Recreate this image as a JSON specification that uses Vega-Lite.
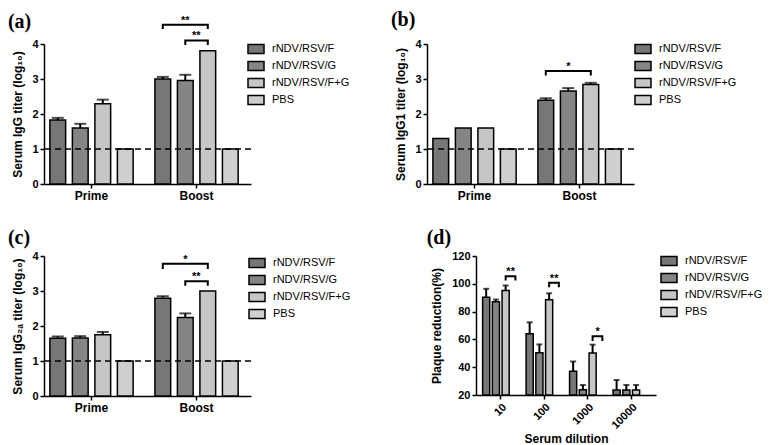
{
  "$schema": "https://vega.github.io/schema/vega-lite/v6.json",
  "padding": {"left": 7, "top": 10, "right": 0, "bottom": 0},
  "background": "white",
  "spacing": 27,
  "resolve": {"scale": {"fill": "independent", "xOffset": "independent"}, "legend": {"fill": "independent"}},
  "config": {
    "font": "Liberation Sans",
    "view": {"stroke": null},
    "axis": {"domainColor": "black", "domainWidth": 1.5, "tickColor": "black", "tickWidth": 1.5, "tickSize": 4, "labelFont": "Liberation Sans", "labelFontWeight": "bold", "labelFontSize": 11, "labelColor": "black", "labelPadding": 2, "labelOverlap": false, "titleFont": "Liberation Sans", "titleFontWeight": "bold", "titleFontSize": 12, "titleColor": "black", "grid": false},
    "axisX": {"labelFontSize": 12},
    "axisY": {"tickCount": 5},
    "legend": {"title": null, "labelFont": "Liberation Sans", "labelFontSize": 11, "labelColor": "black", "symbolType": "M-1,-0.55L1,-0.55L1,0.55L-1,0.55Z", "symbolSize": 256, "symbolStrokeColor": "black", "symbolStrokeWidth": 1.5, "symbolOpacity": 1, "symbolFillOpacity": 1, "rowPadding": -1, "labelOffset": 7},
    "title": {"font": "Liberation Serif", "fontSize": 20, "fontWeight": "bold", "anchor": "start", "frame": "bounds", "color": "black", "offset": 12}
  },
  "vconcat": [
    {
      "bounds": "flush",
      "spacing": 176,
      "resolve": {"scale": {"fill": "independent", "xOffset": "independent"}, "legend": {"fill": "independent"}},
      "hconcat": [
        {
          "title": {"text": "(a)", "dx": -4, "dy": 29},
          "width": 207, "height": 140,
          "data": {"values": [
            {"time": "Prime", "group": "rNDV/RSV/F", "v": 1.83, "hi": 1.89},
            {"time": "Prime", "group": "rNDV/RSV/G", "v": 1.60, "hi": 1.72},
            {"time": "Prime", "group": "rNDV/RSV/F+G", "v": 2.29, "hi": 2.41},
            {"time": "Prime", "group": "PBS", "v": 1.0, "hi": null},
            {"time": "Boost", "group": "rNDV/RSV/F", "v": 3.0, "hi": 3.06},
            {"time": "Boost", "group": "rNDV/RSV/G", "v": 2.96, "hi": 3.12},
            {"time": "Boost", "group": "rNDV/RSV/F+G", "v": 3.81, "hi": null},
            {"time": "Boost", "group": "PBS", "v": 1.0, "hi": null}
          ]},
          "encoding": {
            "x": {"field": "time", "type": "nominal", "scale": {"domain": ["Prime", "Boost"], "paddingInner": 0.143, "paddingOuter": 0.057, "align": 0.21}, "axis": {"title": null, "labelAngle": 0}},
            "xOffset": {"field": "group", "type": "nominal", "scale": {"domain": ["rNDV/RSV/F", "rNDV/RSV/G", "rNDV/RSV/F+G", "PBS"], "paddingInner": 0.3, "paddingOuter": 0.15}}
          },
          "layer": [
            {
              "mark": {"type": "bar", "stroke": "black", "strokeWidth": 1.5},
              "encoding": {
                "y": {"field": "v", "type": "quantitative", "scale": {"domain": [0, 4]}, "axis": {"title": "Serum IgG titer (log₁₀)", "titlePadding": 7}},
                "fill": {"field": "group", "type": "nominal", "scale": {"domain": ["rNDV/RSV/F", "rNDV/RSV/G", "rNDV/RSV/F+G", "PBS"], "range": ["#777777", "#858585", "#c6c6c6", "#cfcfcf"]}, "legend": {"orient": "none", "legendX": 203, "legendY": -4}}
              }
            },
            {
              "transform": [{"filter": "datum.hi != null"}],
              "mark": {"type": "rule", "color": "black", "strokeWidth": 2},
              "encoding": {"y": {"field": "v", "type": "quantitative"}, "y2": {"field": "hi"}}
            },
            {
              "transform": [{"filter": "datum.hi != null"}],
              "mark": {"type": "tick", "color": "black", "thickness": 2, "size": 12},
              "encoding": {"y": {"field": "hi", "type": "quantitative"}}
            },
            {
              "data": {"values": [{"ref": 1}]},
              "mark": {"type": "rule", "color": "black", "strokeWidth": 1.5, "strokeDash": [6, 4]},
              "encoding": {"y": {"field": "ref", "type": "quantitative"}, "x": null, "xOffset": null}
            },
            {
              "data": {"values": [
                {"id": 1, "time": "Boost", "group": "rNDV/RSV/F", "y": 4.43, "o": 1},
                {"id": 1, "time": "Boost", "group": "rNDV/RSV/F", "y": 4.55, "o": 2},
                {"id": 1, "time": "Boost", "group": "rNDV/RSV/F+G", "y": 4.55, "o": 3},
                {"id": 1, "time": "Boost", "group": "rNDV/RSV/F+G", "y": 4.43, "o": 4},
                {"id": 2, "time": "Boost", "group": "rNDV/RSV/G", "y": 3.97, "o": 1},
                {"id": 2, "time": "Boost", "group": "rNDV/RSV/G", "y": 4.10, "o": 2},
                {"id": 2, "time": "Boost", "group": "rNDV/RSV/F+G", "y": 4.10, "o": 3},
                {"id": 2, "time": "Boost", "group": "rNDV/RSV/F+G", "y": 3.97, "o": 4}
              ]},
              "mark": {"type": "line", "color": "black", "strokeWidth": 2},
              "encoding": {"y": {"field": "y", "type": "quantitative"}, "detail": {"field": "id"}, "order": {"field": "o"}}
            },
            {
              "data": {"values": [{"time": "Boost", "group": "rNDV/RSV/G", "y": 4.58, "t": "**"}]},
              "mark": {"type": "text", "fontSize": 11, "fontWeight": "bold", "baseline": "alphabetic"},
              "encoding": {"y": {"field": "y", "type": "quantitative"}, "text": {"field": "t"}}
            },
            {
              "data": {"values": [{"time": "Boost", "group": "rNDV/RSV/G", "y": 4.13, "t": "**"}]},
              "mark": {"type": "text", "fontSize": 11, "fontWeight": "bold", "baseline": "alphabetic", "dx": 11},
              "encoding": {"y": {"field": "y", "type": "quantitative"}, "text": {"field": "t"}}
            }
          ]
        },
        {
          "title": {"text": "(b)", "dx": -4, "dy": 4},
          "width": 207, "height": 140,
          "data": {"values": [
            {"time": "Prime", "group": "rNDV/RSV/F", "v": 1.30, "hi": null},
            {"time": "Prime", "group": "rNDV/RSV/G", "v": 1.60, "hi": null},
            {"time": "Prime", "group": "rNDV/RSV/F+G", "v": 1.60, "hi": null},
            {"time": "Prime", "group": "PBS", "v": 1.0, "hi": null},
            {"time": "Boost", "group": "rNDV/RSV/F", "v": 2.39, "hi": 2.45},
            {"time": "Boost", "group": "rNDV/RSV/G", "v": 2.66, "hi": 2.74},
            {"time": "Boost", "group": "rNDV/RSV/F+G", "v": 2.84, "hi": 2.89},
            {"time": "Boost", "group": "PBS", "v": 1.0, "hi": null}
          ]},
          "encoding": {
            "x": {"field": "time", "type": "nominal", "scale": {"domain": ["Prime", "Boost"], "paddingInner": 0.143, "paddingOuter": 0.057, "align": 0.21}, "axis": {"title": null, "labelAngle": 0}},
            "xOffset": {"field": "group", "type": "nominal", "scale": {"domain": ["rNDV/RSV/F", "rNDV/RSV/G", "rNDV/RSV/F+G", "PBS"], "paddingInner": 0.3, "paddingOuter": 0.15}}
          },
          "layer": [
            {
              "mark": {"type": "bar", "stroke": "black", "strokeWidth": 1.5},
              "encoding": {
                "y": {"field": "v", "type": "quantitative", "scale": {"domain": [0, 4]}, "axis": {"title": "Serum IgG1 titer (log₁₀)", "titlePadding": 7}},
                "fill": {"field": "group", "type": "nominal", "scale": {"domain": ["rNDV/RSV/F", "rNDV/RSV/G", "rNDV/RSV/F+G", "PBS"], "range": ["#777777", "#858585", "#c6c6c6", "#cfcfcf"]}, "legend": {"orient": "none", "legendX": 207, "legendY": -4}}
              }
            },
            {
              "transform": [{"filter": "datum.hi != null"}],
              "mark": {"type": "rule", "color": "black", "strokeWidth": 2},
              "encoding": {"y": {"field": "v", "type": "quantitative"}, "y2": {"field": "hi"}}
            },
            {
              "transform": [{"filter": "datum.hi != null"}],
              "mark": {"type": "tick", "color": "black", "thickness": 2, "size": 12},
              "encoding": {"y": {"field": "hi", "type": "quantitative"}}
            },
            {
              "data": {"values": [{"ref": 1}]},
              "mark": {"type": "rule", "color": "black", "strokeWidth": 1.5, "strokeDash": [6, 4]},
              "encoding": {"y": {"field": "ref", "type": "quantitative"}, "x": null, "xOffset": null}
            },
            {
              "data": {"values": [
                {"id": 1, "time": "Boost", "group": "rNDV/RSV/F", "y": 3.10, "o": 1},
                {"id": 1, "time": "Boost", "group": "rNDV/RSV/F", "y": 3.23, "o": 2},
                {"id": 1, "time": "Boost", "group": "rNDV/RSV/F+G", "y": 3.23, "o": 3},
                {"id": 1, "time": "Boost", "group": "rNDV/RSV/F+G", "y": 3.10, "o": 4}
              ]},
              "mark": {"type": "line", "color": "black", "strokeWidth": 2},
              "encoding": {"y": {"field": "y", "type": "quantitative"}, "detail": {"field": "id"}, "order": {"field": "o"}}
            },
            {
              "data": {"values": [{"time": "Boost", "group": "rNDV/RSV/G", "y": 3.26, "t": "*"}]},
              "mark": {"type": "text", "fontSize": 11, "fontWeight": "bold", "baseline": "alphabetic"},
              "encoding": {"y": {"field": "y", "type": "quantitative"}, "text": {"field": "t"}}
            }
          ]
        }
      ]
    },
    {
      "bounds": "flush",
      "spacing": 225,
      "resolve": {"scale": {"fill": "independent", "xOffset": "independent"}, "legend": {"fill": "independent"}},
      "hconcat": [
        {
          "title": {"text": "(c)", "dx": -4, "dy": 10},
          "width": 207, "height": 140,
          "data": {"values": [
            {"time": "Prime", "group": "rNDV/RSV/F", "v": 1.65, "hi": 1.70},
            {"time": "Prime", "group": "rNDV/RSV/G", "v": 1.66, "hi": 1.71},
            {"time": "Prime", "group": "rNDV/RSV/F+G", "v": 1.75, "hi": 1.83},
            {"time": "Prime", "group": "PBS", "v": 1.0, "hi": null},
            {"time": "Boost", "group": "rNDV/RSV/F", "v": 2.79, "hi": 2.85},
            {"time": "Boost", "group": "rNDV/RSV/G", "v": 2.24, "hi": 2.36},
            {"time": "Boost", "group": "rNDV/RSV/F+G", "v": 3.0, "hi": null},
            {"time": "Boost", "group": "PBS", "v": 1.0, "hi": null}
          ]},
          "encoding": {
            "x": {"field": "time", "type": "nominal", "scale": {"domain": ["Prime", "Boost"], "paddingInner": 0.143, "paddingOuter": 0.057, "align": 0.21}, "axis": {"title": null, "labelAngle": 0}},
            "xOffset": {"field": "group", "type": "nominal", "scale": {"domain": ["rNDV/RSV/F", "rNDV/RSV/G", "rNDV/RSV/F+G", "PBS"], "paddingInner": 0.3, "paddingOuter": 0.15}}
          },
          "layer": [
            {
              "mark": {"type": "bar", "stroke": "black", "strokeWidth": 1.5},
              "encoding": {
                "y": {"field": "v", "type": "quantitative", "scale": {"domain": [0, 4]}, "axis": {"title": "Serum IgG₂ₐ titer (log₁₀)", "titlePadding": 7}},
                "fill": {"field": "group", "type": "nominal", "scale": {"domain": ["rNDV/RSV/F", "rNDV/RSV/G", "rNDV/RSV/F+G", "PBS"], "range": ["#777777", "#858585", "#c6c6c6", "#cfcfcf"]}, "legend": {"orient": "none", "legendX": 204, "legendY": -2}}
              }
            },
            {
              "transform": [{"filter": "datum.hi != null"}],
              "mark": {"type": "rule", "color": "black", "strokeWidth": 2},
              "encoding": {"y": {"field": "v", "type": "quantitative"}, "y2": {"field": "hi"}}
            },
            {
              "transform": [{"filter": "datum.hi != null"}],
              "mark": {"type": "tick", "color": "black", "thickness": 2, "size": 12},
              "encoding": {"y": {"field": "hi", "type": "quantitative"}}
            },
            {
              "data": {"values": [{"ref": 1}]},
              "mark": {"type": "rule", "color": "black", "strokeWidth": 1.5, "strokeDash": [6, 4]},
              "encoding": {"y": {"field": "ref", "type": "quantitative"}, "x": null, "xOffset": null}
            },
            {
              "data": {"values": [
                {"id": 1, "time": "Boost", "group": "rNDV/RSV/F", "y": 3.63, "o": 1},
                {"id": 1, "time": "Boost", "group": "rNDV/RSV/F", "y": 3.78, "o": 2},
                {"id": 1, "time": "Boost", "group": "rNDV/RSV/F+G", "y": 3.78, "o": 3},
                {"id": 1, "time": "Boost", "group": "rNDV/RSV/F+G", "y": 3.63, "o": 4},
                {"id": 2, "time": "Boost", "group": "rNDV/RSV/G", "y": 3.15, "o": 1},
                {"id": 2, "time": "Boost", "group": "rNDV/RSV/G", "y": 3.28, "o": 2},
                {"id": 2, "time": "Boost", "group": "rNDV/RSV/F+G", "y": 3.28, "o": 3},
                {"id": 2, "time": "Boost", "group": "rNDV/RSV/F+G", "y": 3.15, "o": 4}
              ]},
              "mark": {"type": "line", "color": "black", "strokeWidth": 2},
              "encoding": {"y": {"field": "y", "type": "quantitative"}, "detail": {"field": "id"}, "order": {"field": "o"}}
            },
            {
              "data": {"values": [{"time": "Boost", "group": "rNDV/RSV/G", "y": 3.81, "t": "*"}]},
              "mark": {"type": "text", "fontSize": 11, "fontWeight": "bold", "baseline": "alphabetic"},
              "encoding": {"y": {"field": "y", "type": "quantitative"}, "text": {"field": "t"}}
            },
            {
              "data": {"values": [{"time": "Boost", "group": "rNDV/RSV/G", "y": 3.31, "t": "**"}]},
              "mark": {"type": "text", "fontSize": 11, "fontWeight": "bold", "baseline": "alphabetic", "dx": 11},
              "encoding": {"y": {"field": "y", "type": "quantitative"}, "text": {"field": "t"}}
            }
          ]
        },
        {
          "title": {"text": "(d)", "dx": -4, "dy": 10},
          "width": 180, "height": 139,
          "data": {"values": [
            {"dil": "10", "group": "rNDV/RSV/F", "v": 90.4, "hi": 96.4},
            {"dil": "10", "group": "rNDV/RSV/G", "v": 87.0, "hi": 88.7},
            {"dil": "10", "group": "rNDV/RSV/F+G", "v": 95.2, "hi": 98.8},
            {"dil": "100", "group": "rNDV/RSV/F", "v": 64.0, "hi": 72.3},
            {"dil": "100", "group": "rNDV/RSV/G", "v": 50.4, "hi": 56.4},
            {"dil": "100", "group": "rNDV/RSV/F+G", "v": 88.6, "hi": 93.2},
            {"dil": "1000", "group": "rNDV/RSV/F", "v": 37.1, "hi": 44.1},
            {"dil": "1000", "group": "rNDV/RSV/G", "v": 23.8, "hi": 27.2},
            {"dil": "1000", "group": "rNDV/RSV/F+G", "v": 50.2, "hi": 56.2},
            {"dil": "10000", "group": "rNDV/RSV/F", "v": 23.6, "hi": 30.8},
            {"dil": "10000", "group": "rNDV/RSV/G", "v": 23.6, "hi": 27.2},
            {"dil": "10000", "group": "rNDV/RSV/F+G", "v": 23.6, "hi": 27.2}
          ]},
          "encoding": {
            "x": {"field": "dil", "type": "nominal", "scale": {"domain": ["10", "100", "1000", "10000"], "paddingInner": 0.12, "paddingOuter": 0.13}, "axis": {"title": "Serum dilution", "labelAngle": -45, "labelFontSize": 11, "titlePadding": 3}},
            "xOffset": {"field": "group", "type": "nominal", "scale": {"domain": ["rNDV/RSV/F", "rNDV/RSV/G", "rNDV/RSV/F+G", "PBS"], "paddingInner": 0.27, "paddingOuter": 0.1}}
          },
          "layer": [
            {
              "mark": {"type": "bar", "stroke": "black", "strokeWidth": 1.5},
              "encoding": {
                "y": {"field": "v", "type": "quantitative", "scale": {"domain": [20, 120]}, "axis": {"title": "Plaque reduction(%)", "titlePadding": 8}},
                "y2": {"datum": 20},
                "fill": {"field": "group", "type": "nominal", "scale": {"domain": ["rNDV/RSV/F", "rNDV/RSV/G", "rNDV/RSV/F+G", "PBS"], "range": ["#777777", "#858585", "#c6c6c6", "#cfcfcf"]}, "legend": {"orient": "none", "legendX": 184, "legendY": -4}}
              }
            },
            {
              "mark": {"type": "rule", "color": "black", "strokeWidth": 2},
              "encoding": {"y": {"field": "v", "type": "quantitative"}, "y2": {"field": "hi"}}
            },
            {
              "mark": {"type": "tick", "color": "black", "thickness": 2, "size": 6},
              "encoding": {"y": {"field": "hi", "type": "quantitative"}}
            },
            {
              "data": {"values": [
                {"id": 1, "dil": "10", "group": "rNDV/RSV/F+G", "y": 102.4, "o": 1},
                {"id": 1, "dil": "10", "group": "rNDV/RSV/F+G", "y": 105.5, "o": 2},
                {"id": 1, "dil": "10", "group": "PBS", "y": 105.5, "o": 3},
                {"id": 1, "dil": "10", "group": "PBS", "y": 102.4, "o": 4},
                {"id": 2, "dil": "100", "group": "rNDV/RSV/F+G", "y": 97.6, "o": 1},
                {"id": 2, "dil": "100", "group": "rNDV/RSV/F+G", "y": 100.7, "o": 2},
                {"id": 2, "dil": "100", "group": "PBS", "y": 100.7, "o": 3},
                {"id": 2, "dil": "100", "group": "PBS", "y": 97.6, "o": 4},
                {"id": 3, "dil": "1000", "group": "rNDV/RSV/F+G", "y": 58.8, "o": 1},
                {"id": 3, "dil": "1000", "group": "rNDV/RSV/F+G", "y": 62.2, "o": 2},
                {"id": 3, "dil": "1000", "group": "PBS", "y": 62.2, "o": 3},
                {"id": 3, "dil": "1000", "group": "PBS", "y": 58.8, "o": 4}
              ]},
              "mark": {"type": "line", "color": "black", "strokeWidth": 2},
              "encoding": {"y": {"field": "y", "type": "quantitative"}, "detail": {"field": "id"}, "order": {"field": "o"}}
            },
            {
              "data": {"values": [
                {"dil": "10", "group": "rNDV/RSV/F+G", "y": 106.2, "t": "**"},
                {"dil": "100", "group": "rNDV/RSV/F+G", "y": 101.4, "t": "**"},
                {"dil": "1000", "group": "rNDV/RSV/F+G", "y": 62.9, "t": "*"}
              ]},
              "mark": {"type": "text", "fontSize": 11, "fontWeight": "bold", "baseline": "alphabetic", "dx": 5},
              "encoding": {"y": {"field": "y", "type": "quantitative"}, "text": {"field": "t"}}
            }
          ]
        }
      ]
    }
  ]
}
